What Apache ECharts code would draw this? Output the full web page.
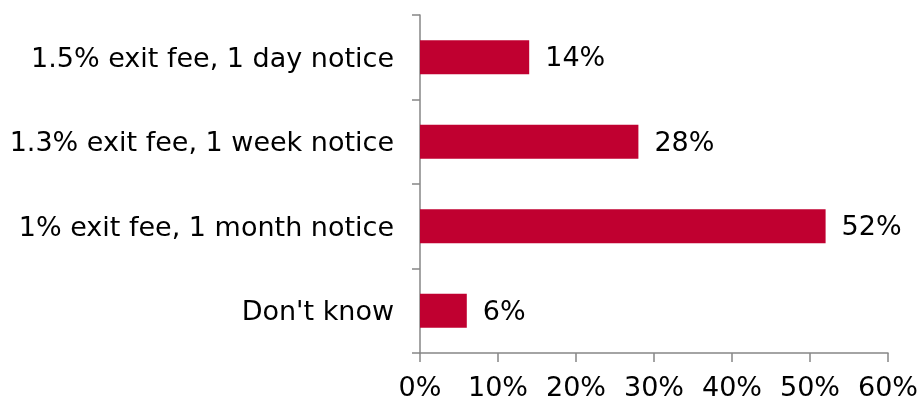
<!DOCTYPE html>
<html>
<head>
<meta charset="utf-8">
<script src="https://cdn.jsdelivr.net/npm/echarts@6/dist/echarts.min.js"></script>
<style>
  html, body { margin: 0; padding: 0; background: #fff; }
  #chart { width: 922px; height: 398px; }
</style>
</head>
<body>
<div id="chart"></div>
<script>
// Response options (top to bottom) and their share of respondents (%)
const categories = [
  "1.5% exit fee, 1 day notice",
  "1.3% exit fee, 1 week notice",
  "1% exit fee, 1 month notice",
  "Don't know"
];
const shares = [14, 28, 52, 6];
const axisMax = 60;
const axisStep = 10;

const FONT = "DejaVu Sans";
const FONT_SIZE = 27;
const AXIS_GREY = "#868686";
const BAR_RED = "#C00030";

const chart = echarts.init(document.getElementById("chart"), null, { renderer: "canvas" });
chart.setOption({
  animation: false,
  backgroundColor: "#ffffff",
  grid: {
    left: 420, right: 34, top: 15, bottom: 45,
    containLabel: false,
    outerBoundsMode: "none"
  },
  xAxis: {
    type: "value",
    min: 0,
    max: axisMax,
    interval: axisStep,
    axisLine: { show: true, lineStyle: { color: AXIS_GREY, width: 1.5 } },
    axisTick: { show: true, length: 9, lineStyle: { color: AXIS_GREY, width: 1.5 } },
    splitLine: { show: false },
    axisLabel: {
      formatter: v => v + "%",
      fontFamily: FONT,
      fontSize: FONT_SIZE,
      color: "#000",
      margin: 22
    }
  },
  yAxis: {
    type: "category",
    data: categories,
    inverse: true,
    axisLine: { show: true, lineStyle: { color: AXIS_GREY, width: 1.5 } },
    axisTick: { show: true, length: 8, lineStyle: { color: AXIS_GREY, width: 1.5 } },
    axisLabel: {
      color: "#000",
      margin: 26,
      formatter: v => "{t|" + v + "}",
      rich: {
        t: { fontFamily: FONT, fontSize: FONT_SIZE, color: "#000", padding: [5, 0, 0, 0] }
      }
    }
  },
  series: [{
    type: "bar",
    data: shares,
    barWidth: 34,
    itemStyle: { color: BAR_RED },
    label: {
      show: true,
      position: "right",
      distance: 16,
      offset: [0, 2],
      formatter: p => p.value + "%",
      fontFamily: FONT,
      fontSize: FONT_SIZE,
      color: "#000"
    }
  }]
});
</script>
</body>
</html>
